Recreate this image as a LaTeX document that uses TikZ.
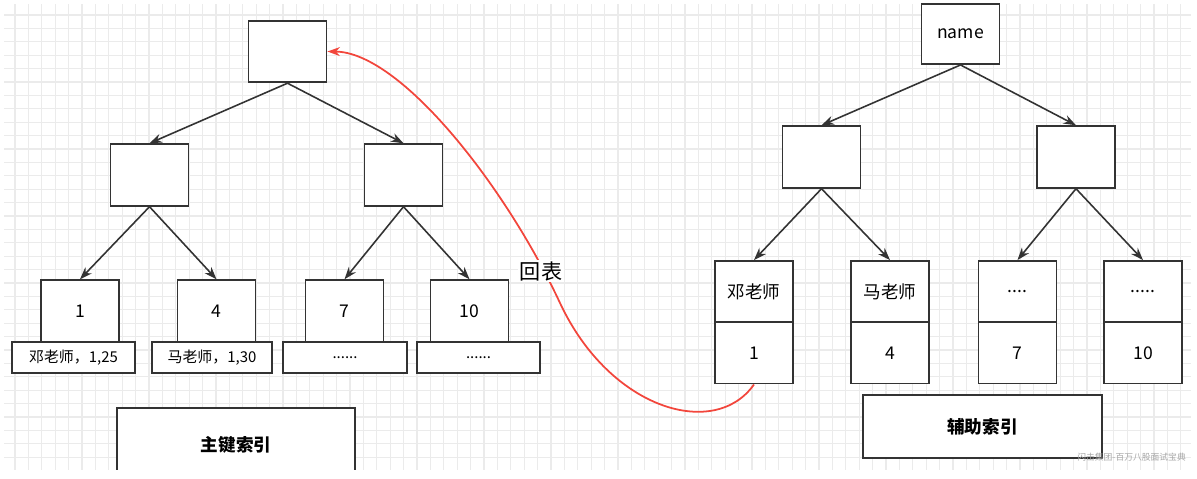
\documentclass[tikz,border=0pt]{standalone}
\usepackage{fontspec}
\setmainfont{Noto Sans CJK SC}
\usetikzlibrary{arrows.meta,positioning}
\definecolor{edgegray}{HTML}{333333}
\definecolor{gridgray}{HTML}{EBEBEB}
\definecolor{backred}{HTML}{F2463C}

\begin{document}
\begin{tikzpicture}[
      x=0.02cm, y=-0.02cm,
      blk/.style={draw=edgegray,line width=1.1pt,fill=white,inner sep=0pt,minimum width=1.56cm,minimum height=1.23cm,font=\fontsize{10}{12}\selectfont},
      rec/.style={draw=edgegray,line width=1.1pt,fill=white,inner sep=0pt,minimum height=0.62cm,font=\fontsize{8.5}{10}\selectfont},
      title/.style={draw=edgegray,line width=1.1pt,fill=white,inner sep=0pt,minimum width=4.77cm,font=\fontsize{10}{12}\selectfont\bfseries},
      tr/.style={-{Stealth[length=2.5mm,width=1.8mm]},line width=0.9pt,edgegray},
    ]
    \useasboundingbox (0,0) rectangle (1197,479);
    \begin{scope}
    \clip (4,4) rectangle (1191,470);
    % background grid
    \foreach \g in {0,...,88} {
      \draw[gridgray,line width=0.7pt] (15+13.4*\g,4) -- (15+13.4*\g,470);
    }
    \foreach \g in {0,...,34} {
      \draw[gridgray,line width=0.7pt] (4,15+13.4*\g) -- (1191,15+13.4*\g);
    }

    % clustered index
    \node[blk] (lroot) at (287.5,51.5) {};
    \node[blk] (ll) at (149.5,175) {};
    \node[blk] (lr) at (403.5,175) {};
    \node[blk] (lk1) at (80,311) {1};
    \node[blk] (lk4) at (216.5,311) {4};
    \node[blk] (lk7) at (344.5,311) {7};
    \node[blk] (lk10) at (469.5,311) {10};
    \node[rec,minimum width=2.46cm] (lv1) at (73.5,357.5) {邓老师，1,25};
    \node[rec,minimum width=2.40cm] (lv4) at (212,357.5) {马老师，1,30};
    \node[rec,minimum width=2.48cm] (lv7) at (345,357.5) {......};
    \node[rec,minimum width=2.46cm] (lv10) at (478.5,357.5) {......};
    \node[title,minimum height=1.48cm] (lname) at (236,445) {主键索引};

    % secondary index
    \node[blk,minimum height=1.2cm] (rroot) at (960.5,34) {name};
    \node[blk] (rl) at (821.5,157) {};
    \node[blk] (rr) at (1076,157) {};
    \node[blk,minimum height=1.22cm] (rk1) at (754,291.5) {邓老师};
    \node[blk,minimum height=1.22cm] (rk1b) at (754,353) {1};
    \node[blk,minimum height=1.22cm] (rk4) at (890,291.5) {马老师};
    \node[blk,minimum height=1.22cm] (rk4b) at (890,353) {4};
    \node[blk,minimum height=1.22cm] (rk7) at (1017.5,291.5) {....};
    \node[blk,minimum height=1.22cm] (rk7b) at (1017.5,353) {7};
    \node[blk,minimum height=1.22cm] (rk10) at (1143,291.5) {.....};
    \node[blk,minimum height=1.22cm] (rk10b) at (1143,353) {10};
    \node[title,minimum height=1.26cm] (rname) at (982.5,426.5) {辅助索引};

    \foreach \p/\c in {lroot/ll,lroot/lr,ll/lk1,ll/lk4,lr/lk7,lr/lk10,
                       rroot/rl,rroot/rr,rl/rk1,rl/rk4,rr/rk7,rr/rk10} {
      \draw[tr] (\p.south) -- (\c.north);
    }

    % back to table
    \coordinate (bend) at (560,303);
    \draw[-{Stealth[length=2.5mm,width=1.8mm]},line width=1pt,backred]
      (rk1b.south) .. controls (715,440) and (610,410) .. (bend)
      .. controls (505,185) and (400,52) .. (lroot.east);
    \node[fill=white,inner sep=1pt,font=\fontsize{12}{14}\selectfont] (back) at (541,271) {回表};

    \node[gray!70,font=\fontsize{5}{6}\selectfont,anchor=east] (mark) at (1192,457) {闪击集团-百万八股面试宝典};
    \end{scope}
  \end{tikzpicture}
\end{document}
